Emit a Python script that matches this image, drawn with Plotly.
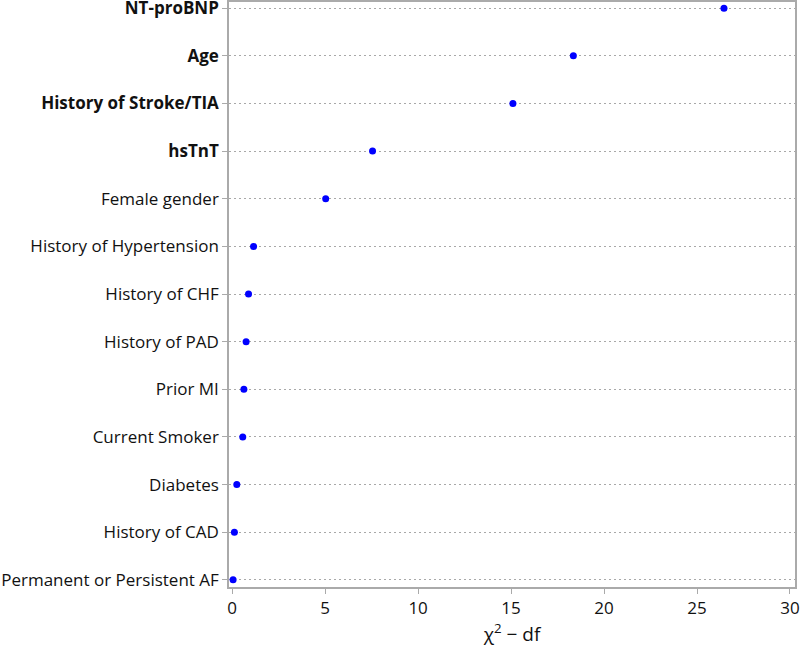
import plotly.graph_objects as go

categories = ["NT-proBNP", "Age", "History of Stroke/TIA", "hsTnT", "Female gender",
              "History of Hypertension", "History of CHF", "History of PAD", "Prior MI",
              "Current Smoker", "Diabetes", "History of CAD", "Permanent or Persistent AF"]
values = [26.45, 18.35, 15.1, 7.55, 5.03, 1.15, 0.88, 0.75, 0.63, 0.57, 0.25, 0.12, 0.05]
bold = ["NT-proBNP", "Age", "History of Stroke/TIA", "hsTnT"]
x_ticks = [0, 5, 10, 15, 20, 25, 30]

ticktext = [f"<b>{c}</b>" if c in bold else c for c in categories]

fig = go.Figure(go.Scatter(
    x=values, y=list(range(len(categories))), mode="markers",
    marker=dict(color="#0000ff", size=7), showlegend=False, cliponaxis=False,
))

font_family = "Open Sans, Noto Sans, sans-serif"
fig.update_layout(
    width=800, height=647,
    margin=dict(l=229, r=5, t=2, b=60, autoexpand=False),
    plot_bgcolor="white", paper_bgcolor="white",
    font=dict(family=font_family, color="#111111"),
)
fig.update_xaxes(
    range=[-0.17, 30.27], tickvals=x_ticks, ticktext=[str(t) for t in x_ticks],
    showgrid=False, zeroline=False, automargin=False, ticklabeloverflow="allow",
    showline=True, linecolor="#aaaaaa", linewidth=1.5, mirror=True,
    ticks="outside", ticklen=5, tickcolor="#aaaaaa",
    tickfont=dict(size=17, family=font_family),
    title=dict(text="χ<sup>2</sup> − df", font=dict(size=19, family=font_family)),
)
fig.update_yaxes(
    range=[12.15, -0.13], tickvals=list(range(len(categories))), ticktext=ticktext,
    showgrid=True, gridcolor="#a8a8a8", griddash="2px,3px", gridwidth=1,
    zeroline=False, automargin=False, ticklabeloverflow="allow",
    showline=True, linecolor="#aaaaaa", linewidth=1.5, mirror=True,
    ticks="outside", ticklen=5, tickcolor="#aaaaaa",
    tickfont=dict(size=17, family=font_family),
)
fig.write_html("out.html", config={"displayModeBar": False},
               post_script="document.body.style.margin='0';document.body.style.overflow='hidden';")
